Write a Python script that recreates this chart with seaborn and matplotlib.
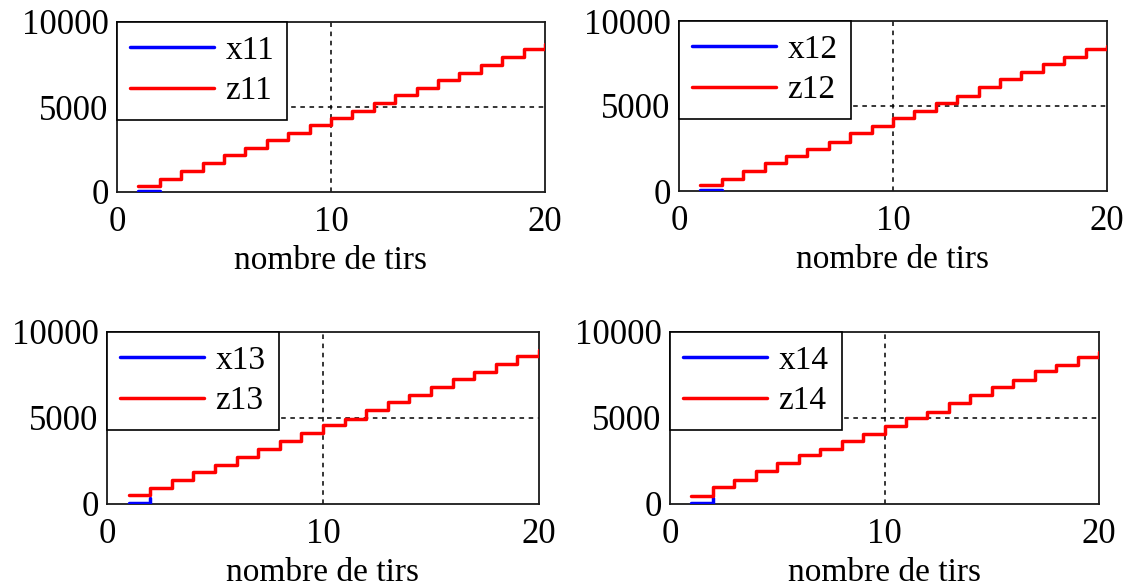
import matplotlib
matplotlib.use("Agg")
import matplotlib.pyplot as plt
import pandas as pd
import seaborn as sns

# Number of shots (x axis)
tirs = list(range(1, 21))
tirs_x = [1, 2]

# Series for each panel
x11 = [60, 60]
z11 = [333, 764, 1215, 1686, 2156, 2587, 3038, 3489, 3940, 4332,
       4782, 5233, 5684, 6135, 6566, 7017, 7487, 7958, 8408, 8683]
x12 = [60, 60]
z12 = [353, 706, 1176, 1627, 2078, 2470, 2902, 3391, 3822, 4273,
       4704, 5155, 5606, 6115, 6586, 7017, 7448, 7860, 8330, 8546]
x13 = [60, 350]
z13 = [504, 930, 1415, 1860, 2248, 2733, 3217, 3663, 4128, 4574,
       4961, 5446, 5911, 6357, 6783, 7267, 7674, 8120, 8585, 8973]
x14 = [60, 350]
z14 = [485, 969, 1415, 1899, 2364, 2829, 3178, 3643, 4089, 4535,
       5000, 5349, 5872, 6318, 6822, 7229, 7713, 8101, 8547, 8837]

panels = [("x11", x11, "z11", z11),
          ("x12", x12, "z12", z12),
          ("x13", x13, "z13", z13),
          ("x14", x14, "z14", z14)]

x_ticks = [0, 10, 20]
y_ticks = [0, 5000, 10000]
x_label = "nombre de tirs"

sns.set_theme(style="white")
plt.rcParams["font.family"] = ["Liberation Serif", "DejaVu Serif"]
plt.rcParams["text.color"] = "black"

W, H = 1131, 588
fig = plt.figure(figsize=(W / 100, H / 100), dpi=100)

# axes boxes in pixels: left, right, top, bottom
boxes = [(117, 545, 22, 192),
         (679, 1107, 21, 191),
         (107, 539, 332, 504),
         (670, 1099, 332, 504)]

FS = 24
TICK_FS = 25

for (xn, xv, zn, zv), (l, r, t, b) in zip(panels, boxes):
    ax = fig.add_axes([l / W, (H - b) / H, (r - l) / W, (b - t) / H])
    df = pd.concat([
        pd.DataFrame({"n": tirs_x, "valeur": xv, "serie": xn}),
        pd.DataFrame({"n": tirs, "valeur": zv, "serie": zn}),
    ], ignore_index=True)
    sns.lineplot(data=df, x="n", y="valeur", hue="serie",
                 palette={xn: "#0000ff", zn: "#ff0000"},
                 drawstyle="steps-post", linewidth=2.5, estimator=None,
                 ax=ax, zorder=3)
    ax.axvline(10, color="black", linestyle=(0, (3, 3)), linewidth=1.1, zorder=1)
    ax.axhline(5000, color="black", linestyle=(0, (3, 3)), linewidth=1.1, zorder=1)
    ax.set_xlim(0, 20)
    ax.set_ylim(0, 10000)
    ax.set_xticks(x_ticks)
    ax.set_yticks(y_ticks)
    ax.set_xticklabels([str(v) for v in x_ticks])
    ax.set_yticklabels([str(v) for v in y_ticks])
    ax.tick_params(length=0, labelsize=TICK_FS, labelcolor="black")
    ax.tick_params(axis="x", pad=10)
    ax.tick_params(axis="y", pad=6)
    ax.set_xlabel(x_label, fontsize=FS, color="black", labelpad=5)
    ax.set_ylabel("")
    for s in ax.spines.values():
        s.set_color("#1a1a1a")
        s.set_linewidth(1.3)
    handles, labels = ax.get_legend_handles_labels()
    leg = ax.legend(handles, labels, loc="upper left", borderaxespad=0,
                    fancybox=False, edgecolor="black", framealpha=1,
                    fontsize=FS, handlelength=2.5, handletextpad=0.35,
                    labelspacing=0.3, borderpad=0.4, labelcolor="black")
    leg.get_frame().set_linewidth(1.2)
    leg.set_zorder(5)

fig.savefig("out.png", dpi=100, facecolor="white")
